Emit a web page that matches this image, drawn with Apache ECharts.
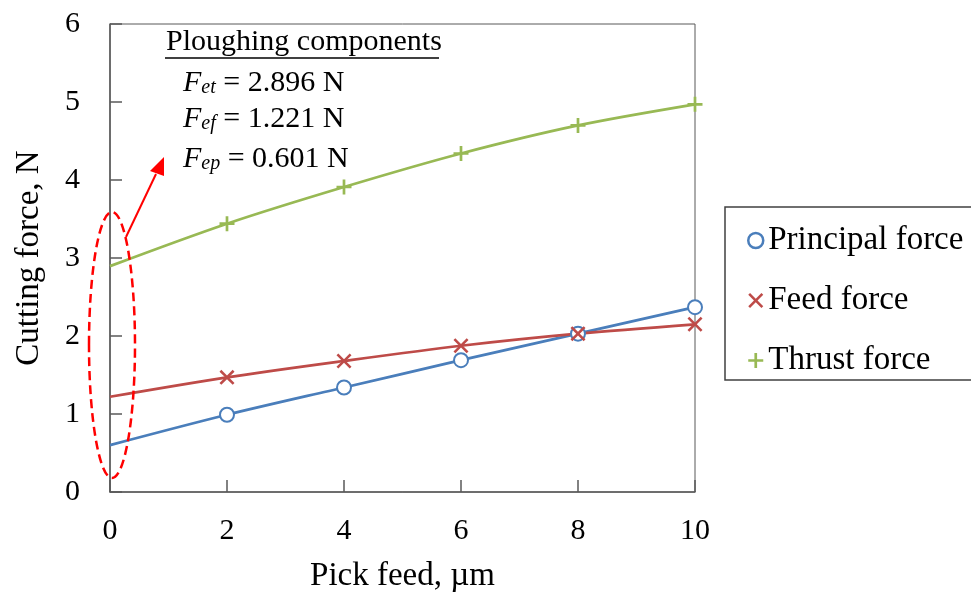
<!DOCTYPE html>
<html>
<head>
<meta charset="utf-8">
<script src="https://cdn.jsdelivr.net/npm/echarts@6/dist/echarts.min.js"></script>
<style>
  html, body { margin: 0; padding: 0; background: #fff; }
  #chart { width: 971px; height: 593px; }
</style>
</head>
<body>
<div id="chart"></div>
<script>
const pickFeed = [0, 2, 4, 6, 8, 10]
const principalForce = [0.601, 0.99, 1.34, 1.69, 2.03, 2.37]
const feedForce = [1.221, 1.47, 1.68, 1.875, 2.03, 2.15]
const thrustForce = [2.896, 3.44, 3.91, 4.34, 4.70, 4.97]

const FONT = '"Liberation Serif", "Times New Roman", serif'
const BLUE = '#4a7ebb'
const RED = '#be4b48'
const GREEN = '#98b954'
const AXIS = '#595959'

const CROSS = 'path://M0,1.2L1.2,0L5,3.8L8.8,0L10,1.2L6.2,5L10,8.8L8.8,10L5,6.2L1.2,10L0,8.8L3.8,5Z'
const PLUS = 'path://M4.1,0H5.9V4.1H10V5.9H5.9V10H4.1V5.9H0V4.1H4.1Z'

// first point (x = 0) is the extrapolated ploughing value, drawn without marker
function toData(values) {
  return pickFeed.map((x, i) => i === 0
    ? { value: [x, values[i]], symbol: 'none' }
    : [x, values[i]])
}

const subStyle = {
  f: { fontFamily: FONT, fontSize: 30, fontStyle: 'italic', fill: '#000', lineHeight: 34, verticalAlign: 'bottom' },
  s: { fontFamily: FONT, fontSize: 20, fontStyle: 'italic', fill: '#000', lineHeight: 16, verticalAlign: 'bottom' },
  t: { fontFamily: FONT, fontSize: 30, fill: '#000', lineHeight: 34, verticalAlign: 'bottom' }
}

const chart = echarts.init(document.getElementById('chart'))

const option = {
  backgroundColor: '#fff',
  animation: false,
  grid: {
    left: 110, right: 276, top: 24, bottom: 101,
    outerBoundsMode: 'none', containLabel: false,
    show: true, borderColor: AXIS, borderWidth: 1, backgroundColor: 'transparent'
  },
  xAxis: {
    type: 'value', min: 0, max: 10, interval: 2,
    name: 'Pick feed, µm', nameLocation: 'middle', nameGap: 68,
    nameTextStyle: { fontFamily: FONT, fontSize: 33, color: '#000' },
    axisLine: { show: true, lineStyle: { color: AXIS, width: 1.5 } },
    axisTick: { show: true, inside: true, length: 12, lineStyle: { color: AXIS, width: 1.5 } },
    axisLabel: { fontFamily: FONT, fontSize: 30, color: '#000', margin: 24 },
    splitLine: { show: false }
  },
  yAxis: {
    type: 'value', min: 0, max: 6, interval: 1,
    name: 'Cutting force, N', nameLocation: 'middle', nameGap: 64,
    nameTextStyle: { fontFamily: FONT, fontSize: 33, color: '#000' },
    axisLine: { show: true, lineStyle: { color: AXIS, width: 1.5 } },
    axisTick: { show: true, inside: true, length: 12, lineStyle: { color: AXIS, width: 1.5 } },
    axisLabel: { fontFamily: FONT, fontSize: 30, color: '#000', margin: 30 },
    splitLine: { show: false }
  },
  legend: {
    orient: 'vertical', left: 742, top: 219,
    itemWidth: 15, itemHeight: 15, itemGap: 27,
    textStyle: { fontFamily: FONT, fontSize: 33, color: '#000', lineHeight: 30 },
    data: [
      { name: 'Principal force', icon: 'circle', itemStyle: { color: '#fff', borderColor: BLUE, borderWidth: 2.5 } },
      { name: 'Feed force', icon: CROSS, itemStyle: { color: RED, borderWidth: 0 } },
      { name: 'Thrust force', icon: PLUS, itemStyle: { color: GREEN, borderWidth: 0 } }
    ]
  },
  series: [
    {
      name: 'Principal force', type: 'line', smooth: 0.3,
      data: toData(principalForce),
      symbol: 'emptyCircle', symbolSize: 14,
      lineStyle: { color: BLUE, width: 2.75 },
      itemStyle: { color: BLUE, borderColor: BLUE, borderWidth: 2.75 }
    },
    {
      name: 'Feed force', type: 'line', smooth: 0.3,
      data: toData(feedForce),
      symbol: CROSS, symbolSize: 15,
      lineStyle: { color: RED, width: 2.75 },
      itemStyle: { color: RED, borderWidth: 0 }
    },
    {
      name: 'Thrust force', type: 'line', smooth: 0.3,
      data: toData(thrustForce),
      symbol: PLUS, symbolSize: 15,
      lineStyle: { color: GREEN, width: 2.75 },
      itemStyle: { color: GREEN, borderWidth: 0 }
    }
  ],
  graphic: [
    // legend frame, runs off the right edge like the original
    { type: 'rect', shape: { x: 725, y: 207, width: 260, height: 173 },
      style: { fill: 'none', stroke: '#404040', lineWidth: 1.5 }, z: 0 },
    // annotation text
    { type: 'text', x: 166, y: 42,
      style: { text: 'Ploughing components', font: '30px ' + FONT, fill: '#000', verticalAlign: 'middle' } },
    { type: 'line', shape: { x1: 165, y1: 58, x2: 439, y2: 58 }, style: { stroke: '#000', lineWidth: 1.5 } },
    { type: 'text', x: 183, y: 81,
      style: { text: '{f|F}{s|et}{t| = 2.896 N}', verticalAlign: 'middle', rich: subStyle } },
    { type: 'text', x: 183, y: 117,
      style: { text: '{f|F}{s|ef}{t| = 1.221 N}', verticalAlign: 'middle', rich: subStyle } },
    { type: 'text', x: 183, y: 157,
      style: { text: '{f|F}{s|ep}{t| = 0.601 N}', verticalAlign: 'middle', rich: subStyle } },
    // dashed ellipse around the x = 0 intercepts and the arrow pointing to the values
    { type: 'ellipse', shape: { cx: 112, cy: 345, rx: 23, ry: 133 },
      style: { fill: 'none', stroke: '#ff0000', lineWidth: 2.5, lineDash: [9, 5] }, z: 10 },
    { type: 'line', shape: { x1: 126, y1: 237, x2: 156, y2: 174 },
      style: { stroke: '#ff0000', lineWidth: 2 }, z: 10 },
    { type: 'polygon', shape: { points: [[164, 157], [150, 171], [164, 176]] },
      style: { fill: '#ff0000' }, z: 10 }
  ]
}

chart.setOption(option)
window.addEventListener('resize', () => chart.resize())
</script>
</body>
</html>
